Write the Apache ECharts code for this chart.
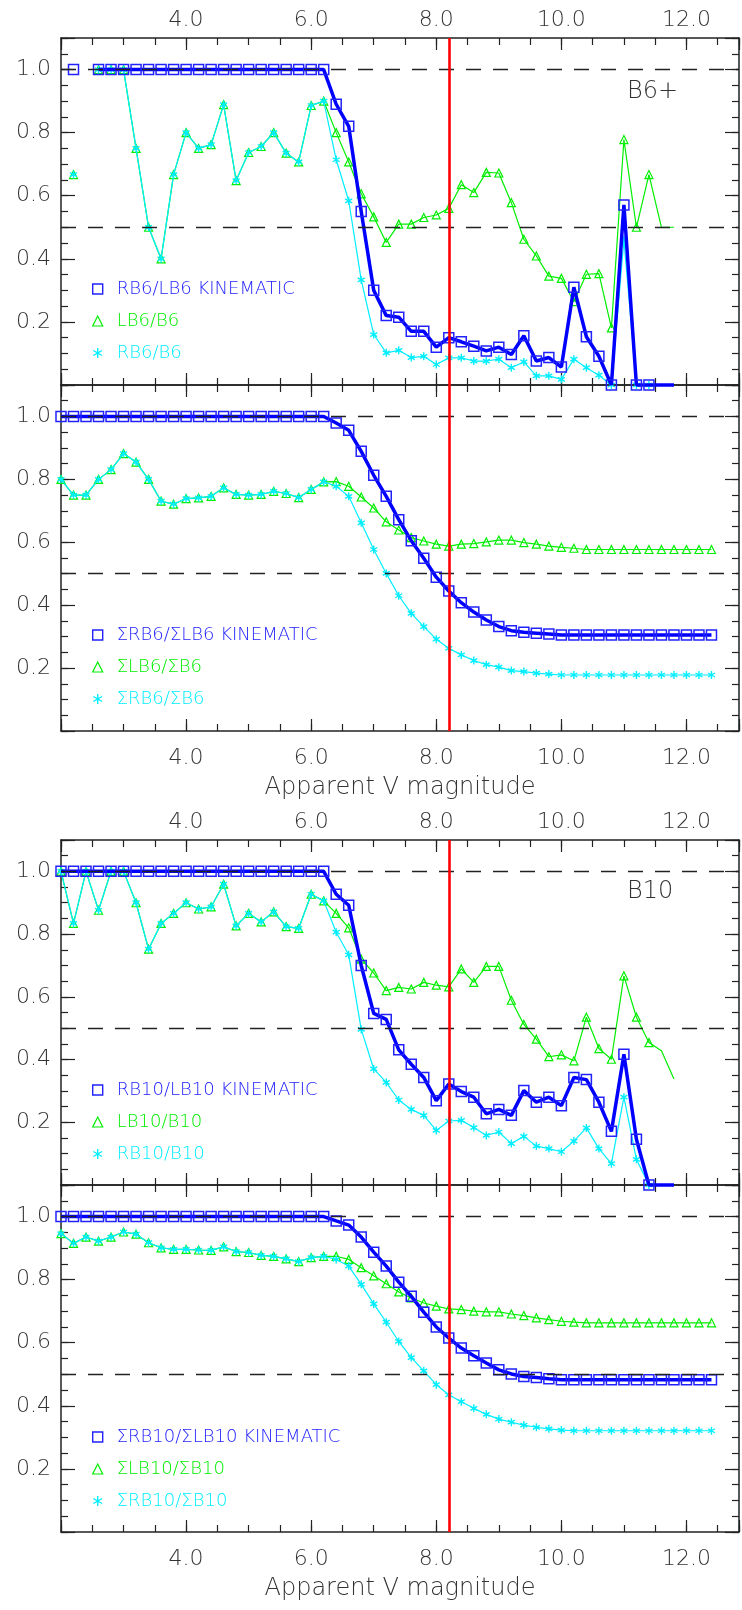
<!DOCTYPE html>
<html><head><meta charset="utf-8">
<script src="https://cdn.jsdelivr.net/npm/echarts@6/dist/echarts.min.js"></script>
<style>html,body{margin:0;padding:0;background:#fff}#c{width:742px;height:1610px}</style>
</head><body><div id="c"></div>
<script>
// ---- data ----
const MAG = [2.0,2.2,2.4,2.6,2.8,3.0,3.2,3.4,3.6,3.8,4.0,4.2,4.4,4.6,4.8,5.0,5.2,5.4,5.6,5.8,6.0,6.2,
  6.4,6.6,6.8,7.0,7.2,7.4,7.6,7.8,8.0,8.2,8.4,8.6,8.8,9.0,9.2,9.4,9.6,9.8,10.0,10.2,10.4,10.6,10.8,11.0,11.2,11.4,11.6,11.8,12.0,12.2,12.4];
const X_TICK_LABELS = [4, 6, 8, 10, 12];
const Y_TICK_LABELS = [0.2, 0.4, 0.6, 0.8, 1.0];
const REF_LEVELS = [1.0, 0.5];
const LIMIT_MAG = 8.2;
const NO_MARKER_MAGS = [11.6, 11.8];
const X_TITLE = 'Apparent V magnitude';

// Panel 1: B6+
const P1_NAMES = ['RB6/LB6 KINEMATIC', 'LB6/B6', 'RB6/B6'];
const P1_KIN = [null,1.0,null,1,1,1,1,1,1,1,1,1,1,1,1,1,1,1,1,1,1,1,
  0.89,0.82,0.55,0.30,0.22,0.215,0.17,0.17,0.12,0.15,0.137,0.123,0.108,0.12,0.097,
  0.156,0.076,0.087,0.057,0.31,0.153,0.091,0,0.571,0,0,0,0,null,null,null];
const P1_LB = [null,0.667,null,1.0,1.0,1.0,0.75,0.50,0.40,0.667,0.80,0.75,0.762,0.889,0.648,0.737,0.756,0.80,0.735,0.707,0.886,0.90,
  0.80,0.707,0.606,0.533,0.452,0.51,0.51,0.531,0.539,0.56,0.635,0.61,0.674,0.672,0.578,
  0.462,0.409,0.345,0.338,0.264,0.351,0.353,0.181,0.778,0.50,0.667,0.50,0.50,null,null,null];
const P1_RB = [null,0.667,null,1.0,1.0,1.0,0.75,0.50,0.40,0.667,0.80,0.75,0.762,0.889,0.648,0.737,0.756,0.80,0.735,0.707,0.886,0.90,
  0.714,0.584,0.333,0.16,0.102,0.11,0.087,0.091,0.065,0.086,0.086,0.076,0.076,0.082,0.055,
  0.073,0.029,0.029,0.018,0.082,0.055,0.031,0,0.46,0,0,0,0,null,null,null];

// Panel 2: cumulative B6
const P2_NAMES = ['\u03A3RB6/\u03A3LB6 KINEMATIC', '\u03A3LB6/\u03A3B6', '\u03A3RB6/\u03A3B6'];
const P2_KIN = [1,1,1,1,1,1,1,1,1,1,1,1,1,1,1,1,1,1,1,1,1,1,
  0.979,0.956,0.889,0.813,0.746,0.672,0.605,0.549,0.489,0.445,0.408,0.378,0.353,0.332,0.319,0.314,0.311,0.308,
  0.305,0.305,0.305,0.305,0.305,0.305,0.305,0.305,0.305,0.305,0.305,0.305,0.305];
const P2_LB = [0.80,0.75,0.75,0.80,0.831,0.882,0.855,0.80,0.731,0.721,0.739,0.741,0.746,0.773,0.752,0.75,0.752,0.762,0.755,0.742,0.768,0.792,
  0.793,0.778,0.744,0.709,0.665,0.639,0.615,0.604,0.594,0.588,0.594,0.596,0.601,0.607,0.607,0.599,0.594,0.588,0.584,0.581,
  0.577,0.577,0.577,0.577,0.577,0.577,0.577,0.577,0.577,0.577,0.577];
const P2_RB = [0.80,0.75,0.75,0.80,0.831,0.882,0.855,0.80,0.731,0.721,0.739,0.741,0.746,0.773,0.752,0.75,0.752,0.762,0.755,0.742,0.768,0.792,
  0.778,0.746,0.662,0.577,0.501,0.430,0.374,0.332,0.292,0.263,0.242,0.224,0.211,0.203,0.192,0.189,0.184,0.181,
  0.178,0.178,0.178,0.178,0.178,0.178,0.178,0.178,0.178,0.178,0.178,0.178,0.178];

// Panel 3: B10
const P3_NAMES = ['RB10/LB10 KINEMATIC', 'LB10/B10', 'RB10/B10'];
const P3_KIN = [1,1,1,1,1,1,1,1,1,1,1,1,1,1,1,1,1,1,1,1,1,1,
  0.927,0.892,0.70,0.547,0.528,0.431,0.385,0.343,0.269,0.322,0.298,0.280,0.227,0.241,0.222,
  0.301,0.264,0.280,0.253,0.343,0.336,0.264,0.171,0.417,0.146,0,0,0,null,null,null];
const P3_LB = [1.0,0.834,1.0,0.876,1.0,1.0,0.90,0.752,0.834,0.866,0.90,0.880,0.887,0.959,0.826,0.866,0.839,0.871,0.824,0.818,0.927,0.906,
  0.866,0.820,0.72,0.676,0.620,0.630,0.625,0.646,0.637,0.632,0.689,0.646,0.697,0.697,0.589,
  0.512,0.465,0.409,0.415,0.396,0.535,0.435,0.401,0.667,0.535,0.454,0.428,0.338,null,null,null];
const P3_RB = [1.0,0.834,1.0,0.876,1.0,1.0,0.90,0.752,0.834,0.866,0.90,0.880,0.887,0.959,0.826,0.866,0.839,0.871,0.824,0.818,0.927,0.906,
  0.806,0.734,0.496,0.370,0.327,0.271,0.241,0.222,0.174,0.204,0.206,0.183,0.158,0.169,0.132,
  0.155,0.124,0.116,0.106,0.140,0.182,0.116,0.068,0.280,0.082,0,0,0,null,null,null];

// Panel 4: cumulative B10
const P4_NAMES = ['\u03A3RB10/\u03A3LB10 KINEMATIC', '\u03A3LB10/\u03A3B10', '\u03A3RB10/\u03A3B10'];
const P4_KIN = [1,1,1,1,1,1,1,1,1,1,1,1,1,1,1,1,1,1,1,1,1,1,
  0.986,0.973,0.935,0.887,0.843,0.792,0.747,0.697,0.650,0.615,0.583,0.559,0.536,0.514,0.501,0.493,0.490,0.486,
  0.483,0.483,0.483,0.483,0.483,0.483,0.483,0.483,0.483,0.483,0.483,0.483,0.483];
const P4_LB = [0.946,0.915,0.935,0.922,0.935,0.951,0.944,0.917,0.901,0.896,0.896,0.894,0.893,0.904,0.889,0.886,0.877,0.874,0.866,0.857,0.870,0.874,
  0.874,0.864,0.838,0.812,0.787,0.761,0.742,0.726,0.716,0.707,0.705,0.700,0.698,0.698,0.691,0.686,0.679,0.673,0.668,0.665,
  0.663,0.663,0.663,0.663,0.663,0.663,0.663,0.663,0.663,0.663,0.663];
const P4_RB = [0.946,0.915,0.935,0.922,0.935,0.951,0.944,0.917,0.901,0.896,0.896,0.894,0.893,0.904,0.889,0.886,0.877,0.874,0.866,0.857,0.870,0.874,
  0.864,0.843,0.785,0.723,0.665,0.604,0.553,0.511,0.467,0.435,0.413,0.392,0.373,0.358,0.348,0.339,0.332,0.327,0.323,
  0.321,0.321,0.321,0.321,0.321,0.321,0.321,0.321,0.321,0.321,0.321,0.321];

// ---- layout / style ----
const FONT = "'DejaVu Sans', sans-serif";
const FW = 200;
const X_MIN = 2, X_MAX = 12.84, Y_MIN = 0, Y_MAX = 1.1;
const GRIDS = [
  {top: 38, height: 347}, {top: 385, height: 346}, {top: 840, height: 345}, {top: 1185, height: 347}
];
const PANELS = [
  {names: P1_NAMES, kin: P1_KIN, lb: P1_LB, rb: P1_RB, tag: 'B6+', tagY: 94, topLabels: true, bottomLabels: false, legendTop: 274},
  {names: P2_NAMES, kin: P2_KIN, lb: P2_LB, rb: P2_RB, tag: null, topLabels: false, bottomLabels: true, legendTop: 620},
  {names: P3_NAMES, kin: P3_KIN, lb: P3_LB, rb: P3_RB, tag: 'B10', tagY: 894, topLabels: true, bottomLabels: false, legendTop: 1075},
  {names: P4_NAMES, kin: P4_KIN, lb: P4_LB, rb: P4_RB, tag: null, topLabels: false, bottomLabels: true, legendTop: 1422}
];
const C_BLUE_LINE = '#0000ff', C_BLUE_SYM = '#2222ff', C_GREEN = '#00ee00', C_CYAN = '#00eeff';
const AXIS_LINE = {color: '#222', width: 1.5};
const TICK_LINE = {color: '#222', width: 1.2};
const LABEL_TXT = {color: '#333', fontSize: 22, fontFamily: FONT, fontWeight: FW};
const ASTERISK = 'path://M10,0L10,20M1.34,5L18.66,15M1.34,15L18.66,5';

function xFmt(v) { const r = Math.round(v); return (Math.abs(v - r) < 1e-6 && X_TICK_LABELS.includes(r)) ? r.toFixed(1) : ''; }
function yFmt(v) { for (const t of Y_TICK_LABELS) if (Math.abs(v - t) < 1e-6) return t.toFixed(1); return ''; }

function pts(vals, hideSome) {
  return MAG.map((m, i) => {
    const v = vals[i];
    if (v === null) return [m, '-'];
    if (hideSome && NO_MARKER_MAGS.includes(m)) return {value: [m, v], symbol: 'none'};
    return [m, v];
  });
}

const xAxis = [], yAxis = [], grid = [], series = [], legend = [], graphic = [];
PANELS.forEach((p, gi) => {
  grid.push({left: 61, width: 680, top: GRIDS[gi].top, height: GRIDS[gi].height, containLabel: false});
  const xc = {type: 'value', gridIndex: gi, min: X_MIN, max: X_MAX, splitLine: {show: false}};
  xAxis.push(
    Object.assign({}, xc, {position: 'bottom', interval: 2,
      axisLine: {show: true, onZero: false, lineStyle: AXIS_LINE},
      axisTick: {show: true, inside: true, length: 12, lineStyle: TICK_LINE},
      axisLabel: Object.assign({show: p.bottomLabels, margin: 16, formatter: xFmt}, LABEL_TXT),
      name: p.bottomLabels ? X_TITLE : '', nameLocation: 'middle', nameGap: 45,
      nameTextStyle: {color: '#333', fontSize: 24, fontFamily: FONT, fontWeight: FW}}),
    Object.assign({}, xc, {position: 'top', interval: 2,
      axisLine: {show: true, onZero: false, lineStyle: AXIS_LINE},
      axisTick: {show: true, inside: true, length: 12, lineStyle: TICK_LINE},
      axisLabel: Object.assign({show: p.topLabels, margin: 7, formatter: xFmt}, LABEL_TXT)}),
    Object.assign({}, xc, {position: 'bottom', interval: 0.5,
      axisLine: {show: false, onZero: false}, axisLabel: {show: false},
      axisTick: {show: true, inside: true, length: 7, lineStyle: TICK_LINE}}),
    Object.assign({}, xc, {position: 'top', interval: 0.5,
      axisLine: {show: false, onZero: false}, axisLabel: {show: false},
      axisTick: {show: true, inside: true, length: 7, lineStyle: TICK_LINE}})
  );
  const yc = {type: 'value', gridIndex: gi, min: Y_MIN, max: Y_MAX, splitLine: {show: false}};
  yAxis.push(
    Object.assign({}, yc, {position: 'left', interval: 0.2,
      axisLine: {show: true, onZero: false, lineStyle: AXIS_LINE},
      axisTick: {show: true, inside: true, length: 14, lineStyle: TICK_LINE},
      axisLabel: Object.assign({show: true, margin: 10, formatter: yFmt}, LABEL_TXT)}),
    Object.assign({}, yc, {position: 'right', interval: 0.2,
      axisLine: {show: true, onZero: false, lineStyle: AXIS_LINE},
      axisTick: {show: true, inside: true, length: 14, lineStyle: TICK_LINE},
      axisLabel: {show: false}}),
    Object.assign({}, yc, {position: 'left', interval: 0.05,
      axisLine: {show: false, onZero: false}, axisLabel: {show: false},
      axisTick: {show: true, inside: true, length: 7, lineStyle: TICK_LINE}}),
    Object.assign({}, yc, {position: 'right', interval: 0.05,
      axisLine: {show: false, onZero: false}, axisLabel: {show: false},
      axisTick: {show: true, inside: true, length: 7, lineStyle: TICK_LINE}})
  );
  const hide = gi === 0 || gi === 2;
  const base = {type: 'line', xAxisIndex: gi * 4, yAxisIndex: gi * 4, showSymbol: true, showAllSymbol: true,
    connectNulls: false, animation: false, silent: true, emphasis: {disabled: true}, clip: false};
  series.push(Object.assign({}, base, {name: p.names[1], data: pts(p.lb, hide), z: 2,
    symbol: 'triangle', symbolSize: 8,
    lineStyle: {color: C_GREEN, width: 1.2},
    itemStyle: {color: 'rgba(0,0,0,0)', borderColor: C_GREEN, borderWidth: 1.2}}));
  series.push(Object.assign({}, base, {name: p.names[2], data: pts(p.rb, hide), z: 3,
    symbol: ASTERISK, symbolSize: 8, symbolKeepAspect: true,
    lineStyle: {color: C_CYAN, width: 1.2},
    itemStyle: {color: 'rgba(0,0,0,0)', borderColor: C_CYAN, borderWidth: 1.4}}));
  series.push(Object.assign({}, base, {name: p.names[0], data: pts(p.kin, hide), z: 4,
    symbol: 'rect', symbolSize: 10,
    lineStyle: {color: C_BLUE_LINE, width: 3.5},
    itemStyle: {color: 'rgba(0,0,0,0)', borderColor: C_BLUE_SYM, borderWidth: 1.5}}));
  // reference lines
  series.push({type: 'line', xAxisIndex: gi * 4, yAxisIndex: gi * 4, data: [], z: 6, silent: true, animation: false,
    markLine: {symbol: ['none', 'none'], silent: true, animation: false, label: {show: false},
      data: REF_LEVELS.map(v => ({yAxis: v, lineStyle: {type: [15, 12], color: '#222', width: 1.3}}))
        .concat([{xAxis: LIMIT_MAG, lineStyle: {type: 'solid', color: '#ff0000', width: 2.6}}])}});
  legend.push({
    orient: 'vertical', left: 87, top: p.legendTop, itemWidth: 10, itemHeight: 10, itemGap: 12,
    selectedMode: false,
    textStyle: {fontSize: 18, fontFamily: FONT, fontWeight: FW, lineHeight: 20, padding: [0, 0, 0, 9]},
    data: [
      {name: p.names[0], icon: 'rect', itemStyle: {color: 'rgba(0,0,0,0)', borderColor: C_BLUE_SYM, borderWidth: 1.4}, textStyle: {color: C_BLUE_SYM}},
      {name: p.names[1], icon: 'triangle', itemStyle: {color: 'rgba(0,0,0,0)', borderColor: C_GREEN, borderWidth: 1.2}, textStyle: {color: C_GREEN}},
      {name: p.names[2], icon: ASTERISK, itemStyle: {color: 'rgba(0,0,0,0)', borderColor: C_CYAN, borderWidth: 1.4}, textStyle: {color: C_CYAN}}
    ]
  });
  if (p.tag) {
    graphic.push({type: 'text', left: 627, top: p.tagY - 14, silent: true,
      style: {text: p.tag, fill: '#333', font: FW + ' 24px ' + FONT}});
  }
});

const chart = echarts.init(document.getElementById('c'), null, {renderer: 'canvas'});
chart.setOption({backgroundColor: '#fff', animation: false, grid, xAxis, yAxis, series, legend, graphic,
  textStyle: {fontFamily: FONT}});
</script></body></html>
